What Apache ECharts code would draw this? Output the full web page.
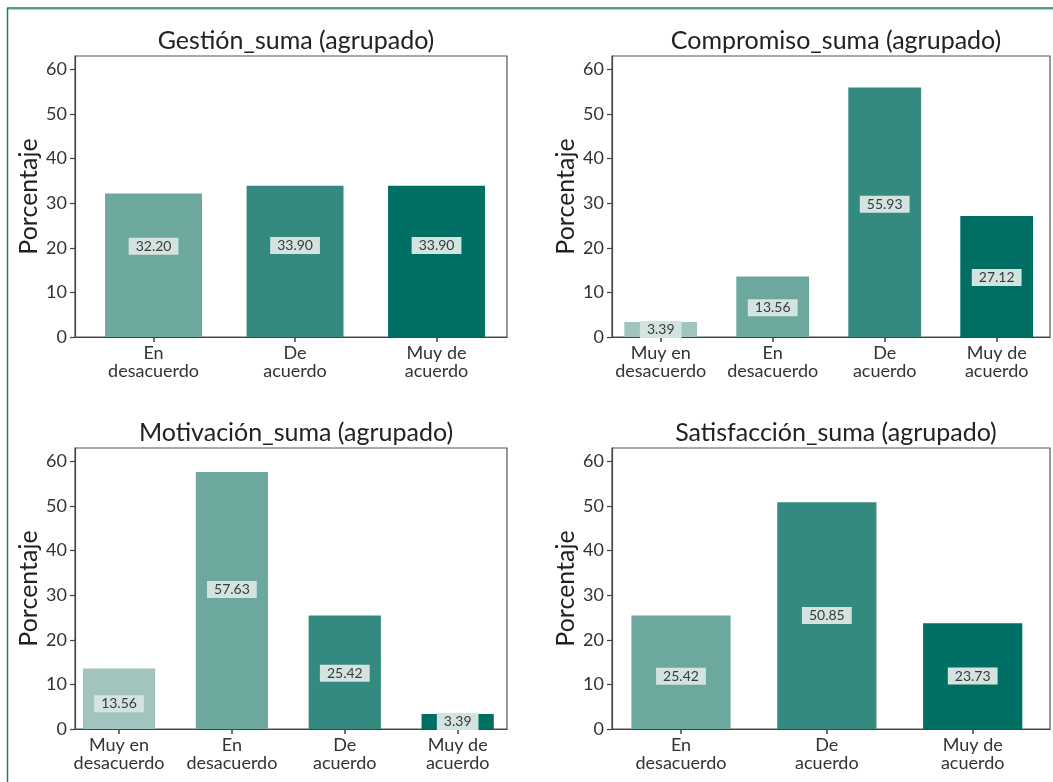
<!DOCTYPE html>
<html>
<head>
<meta charset="utf-8">
<script src="https://cdn.jsdelivr.net/npm/echarts@6/dist/echarts.min.js"></script>
<style>
html,body{margin:0;padding:0;background:#fff;}
#c{width:1053px;height:782px;}
</style>
</head>
<body>
<div id="c"></div>
<script>
// ---- data ----
const titles = ['Gestión_suma (agrupado)', 'Compromiso_suma (agrupado)', 'Motivación_suma (agrupado)', 'Satisfacción_suma (agrupado)'];
const gestionCats = ['En\ndesacuerdo', 'De\nacuerdo', 'Muy de\nacuerdo'];
const gestionVals = [32.20, 33.90, 33.90];
const compromisoCats = ['Muy en\ndesacuerdo', 'En\ndesacuerdo', 'De\nacuerdo', 'Muy de\nacuerdo'];
const compromisoVals = [3.39, 13.56, 55.93, 27.12];
const motivacionCats = ['Muy en\ndesacuerdo', 'En\ndesacuerdo', 'De\nacuerdo', 'Muy de\nacuerdo'];
const motivacionVals = [13.56, 57.63, 25.42, 3.39];
const satisfaccionCats = ['En\ndesacuerdo', 'De\nacuerdo', 'Muy de\nacuerdo'];
const satisfaccionVals = [25.42, 50.85, 23.73];
const yTicks = [0, 10, 20, 30, 40, 50, 60];
const yName = 'Porcentaje';

// ---- styles / layout ----
const colorByCat = {
  'Muy en\ndesacuerdo': '#a1c5be',
  'En\ndesacuerdo': '#6ca89d',
  'De\nacuerdo': '#358a80',
  'Muy de\nacuerdo': '#006f63'
};
const FONT = 'Lato';
const TXT = '#333333';
const grids = [
  {left: 75, top: 56, width: 432, height: 281},
  {left: 612, top: 56, width: 438, height: 281},
  {left: 75, top: 448, width: 432, height: 281},
  {left: 612, top: 448, width: 438, height: 281}
];
// horizontal extent of each category scale (in category-index units)
const xRanges = [[-0.555, 2.498], [-0.435, 3.476], [-0.39, 3.437], [-0.473, 2.53]];
const barWidths = ['68.5%', '65%', '64%', '68%'];
// vertical nudges of value labels (px)
const labelNudges = [[-19, -16, -16], [0, 1, -8, 1], [5, -11, 1, 0], [4, 0, 0]];
const panels = [
  [gestionCats, gestionVals],
  [compromisoCats, compromisoVals],
  [motivacionCats, motivacionVals],
  [satisfaccionCats, satisfaccionVals]
];

const option = {
  backgroundColor: '#ffffff',
  animation: false,
  textStyle: {fontFamily: FONT},
  title: titles.map((t, i) => ({
    text: t,
    left: grids[i].left + grids[i].width / 2,
    top: grids[i].top - 33,
    textAlign: 'center',
    textStyle: {fontFamily: FONT, fontSize: 25, fontWeight: 'normal', color: '#222'}
  })),
  grid: grids.map(g => Object.assign({show: true, borderColor: '#555', borderWidth: 1.2, backgroundColor: '#fff'}, g)),
  xAxis: panels.map((p, i) => ({
    type: 'value',
    gridIndex: i,
    min: xRanges[i][0],
    max: xRanges[i][1],
    splitLine: {show: false},
    axisLine: {show: true, onZero: false, lineStyle: {color: '#444', width: 1.2}},
    axisTick: {show: true, length: 5, customValues: p[0].map((c, j) => j), lineStyle: {color: '#444', width: 1.5}},
    axisLabel: {
      color: TXT, fontFamily: FONT, fontSize: 18, lineHeight: 18, margin: 7,
      customValues: p[0].map((c, j) => j),
      formatter: v => (p[0][Math.round(v)] !== undefined ? p[0][Math.round(v)] : '')
    }
  })),
  yAxis: panels.map((p, i) => ({
    type: 'value',
    gridIndex: i,
    min: 0,
    max: 63,
    name: yName,
    nameLocation: 'middle',
    nameGap: 34,
    nameTextStyle: {color: '#222', fontFamily: FONT, fontSize: 25},
    splitLine: {show: false},
    axisLine: {show: true, onZero: false, lineStyle: {color: '#444', width: 1.2}},
    axisTick: {show: true, length: 5, customValues: yTicks, lineStyle: {color: '#444', width: 1.2}},
    axisLabel: {
      color: TXT, fontFamily: FONT, fontSize: 18, margin: 8,
      customValues: yTicks,
      formatter: v => String(v)
    }
  })),
  series: panels.map((p, i) => ({
    type: 'bar',
    xAxisIndex: i,
    yAxisIndex: i,
    barWidth: barWidths[i],
    data: p[1].map((v, j) => ({
      value: [j, v],
      itemStyle: {color: colorByCat[p[0][j]]},
      label: {offset: [0, labelNudges[i][j]]}
    })),
    label: {
      show: true,
      position: 'inside',
      formatter: d => d.value[1].toFixed(2),
      color: '#3a3a3a',
      fontFamily: FONT,
      fontSize: 14,
      backgroundColor: '#d3e3e0',
      padding: [2, 7, 1, 7]
    }
  })),
  graphic: [
    {type: 'line', shape: {x1: 7, y1: 8, x2: 1053, y2: 8}, style: {stroke: '#1d7a6e', lineWidth: 1.5}},
    {type: 'line', shape: {x1: 7, y1: 9.5, x2: 1053, y2: 9.5}, style: {stroke: '#a9d2cb', lineWidth: 1}},
    {type: 'line', shape: {x1: 7.5, y1: 8, x2: 7.5, y2: 782}, style: {stroke: '#1d7a6e', lineWidth: 1.5}}
  ]
};

const chart = echarts.init(document.getElementById('c'), null, {renderer: 'canvas'});
chart.setOption(option);
</script>
</body>
</html>
